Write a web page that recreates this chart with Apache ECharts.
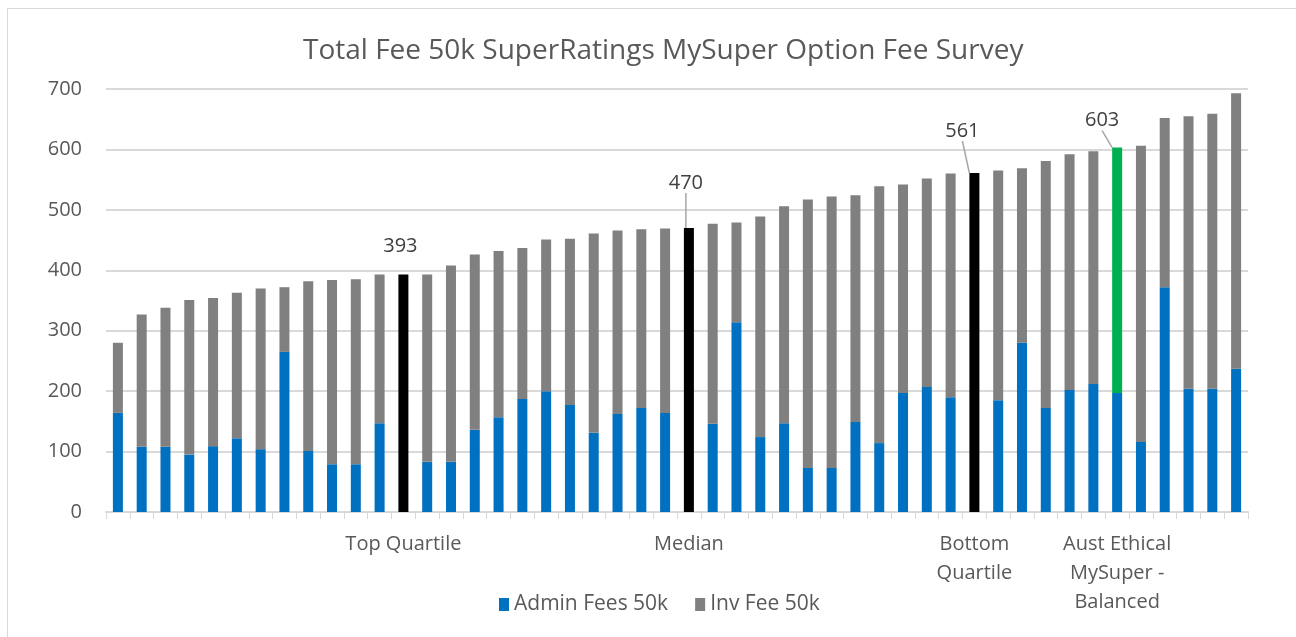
<!DOCTYPE html>
<html>
<head>
<meta charset="utf-8">
<script src="https://cdn.jsdelivr.net/npm/echarts@6/dist/echarts.min.js"></script>
<style>
  html, body { margin: 0; padding: 0; background: #fff; }
  #frame { position: absolute; left: 7px; top: 8px; width: 1300px; height: 640px; border: 1px solid #d9d9d9; box-sizing: border-box; }
  #chart { position: absolute; left: 0; top: 0; width: 1296px; height: 637px; }
</style>
</head>
<body>
<div id="frame"></div>
<div id="chart"></div>
<script>
// category labels (only the highlighted funds carry a name)
const categories = [
  '', '', '', '', '', '', '', '', '', '', '', '', 'Top Quartile',
  '', '', '', '', '', '', '', '', '', '', '', 'Median',
  '', '', '', '', '', '', '', '', '', '', '', 'Bottom\nQuartile',
  '', '', '', '', '', 'Aust Ethical\nMySuper -\nBalanced',
  '', '', '', '', ''
]

// admin fee on a 50k balance ($)
const adminFees = [
  164, 108, 108, 95, 109, 122, 104, 265, 101, 79, 79, 147, 0,
  83, 83, 136, 157, 187, 200, 177, 131, 162, 172, 164, 0,
  146, 314, 124, 147, 73, 73, 149, 114, 197, 207, 190, 0,
  185, 280, 172, 202, 212, 197, 116, 372, 204, 204, 237
]

// total fee on a 50k balance ($)
const totalFees = [
  280, 327, 338, 351, 354, 363, 370, 372, 382, 384, 385, 393, 393,
  393, 408, 426, 432, 437, 451, 452, 461, 466, 468, 469, 470,
  477, 479, 489, 506, 517, 522, 524, 539, 542, 552, 560, 561,
  565, 569, 581, 592, 597, 603, 606, 652, 655, 659, 693
]

const yTicks = [0, 100, 200, 300, 400, 500, 600, 700]

// markers: index -> colour of the highlighted bar
const markers = { 12: '#000000', 24: '#000000', 36: '#000000', 42: '#00B050' }
// label offsets for the highlighted totals
const labelShift = { 12: [-3, -14], 24: [-3, -31], 36: [-12, -28], 42: [-15, -13] }

const invFees = totalFees.map((t, i) => t - adminFees[i])

const font = '"Open Sans", sans-serif'
const grey = '#595959'

const adminData = adminFees.map((v, i) => {
  if (markers[i] === '#000000') return { value: v, itemStyle: { color: '#000' } }
  return v
})

const invData = invFees.map((v, i) => {
  if (!(i in markers)) return v
  return {
    value: v,
    itemStyle: { color: markers[i] },
    label: {
      show: true,
      position: 'top',
      distance: 4,
      formatter: String(totalFees[i]),
      color: '#404040',
      fontSize: 20,
      fontFamily: font,
    },
    labelLine: { show: i !== 12 },
  }
})

const chart = echarts.init(document.getElementById('chart'), null, { renderer: 'canvas' })
chart.setOption({
  animation: false,
  textStyle: { fontFamily: font },
  title: {
    text: 'Total Fee 50k SuperRatings MySuper Option Fee Survey',
    left: 298,
    top: 32,
    textStyle: { fontSize: 28, fontWeight: 'normal', color: grey, fontFamily: font },
  },
  legend: {
    bottom: 17,
    left: 494,
    itemWidth: 10,
    itemHeight: 13,
    itemGap: 27,
    icon: 'rect',
    textStyle: { fontSize: 21, color: grey, fontFamily: font },
    data: ['Admin Fees 50k', 'Inv Fee 50k'],
  },
  grid: { left: 106, right: 48, top: 89, bottom: 125, containLabel: false },
  xAxis: {
    type: 'category',
    data: categories,
    axisLine: { lineStyle: { color: '#d9d9d9', width: 2 } },
    axisTick: { show: true, interval: 0, length: 7, lineStyle: { color: '#d9d9d9' } },
    axisLabel: {
      interval: 0,
      color: grey,
      fontSize: 20,
      lineHeight: 29,
      margin: 18,
      fontFamily: font,
      verticalAlign: 'top',
    },
  },
  yAxis: {
    type: 'value',
    min: yTicks[0],
    max: yTicks[yTicks.length - 1],
    interval: 100,
    axisLine: { show: false },
    axisTick: { show: false },
    axisLabel: { color: grey, fontSize: 20, margin: 24, fontFamily: font },
    splitLine: { lineStyle: { color: '#d9d9d9', width: 2 } },
  },
  series: [
    {
      name: 'Admin Fees 50k',
      type: 'bar',
      stack: 'fee',
      barWidth: 10,
      itemStyle: { color: '#0070C0' },
      data: adminData,
    },
    {
      name: 'Inv Fee 50k',
      type: 'bar',
      stack: 'fee',
      barWidth: 10,
      itemStyle: { color: '#808080' },
      labelLine: { show: true, lineStyle: { color: '#a6a6a6', width: 1.5 } },
      labelLayout: (p) => {
        const s = labelShift[p.dataIndex]
        return s ? { dx: s[0], dy: s[1] } : {}
      },
      data: invData,
    },
  ],
})
</script>
</body>
</html>
